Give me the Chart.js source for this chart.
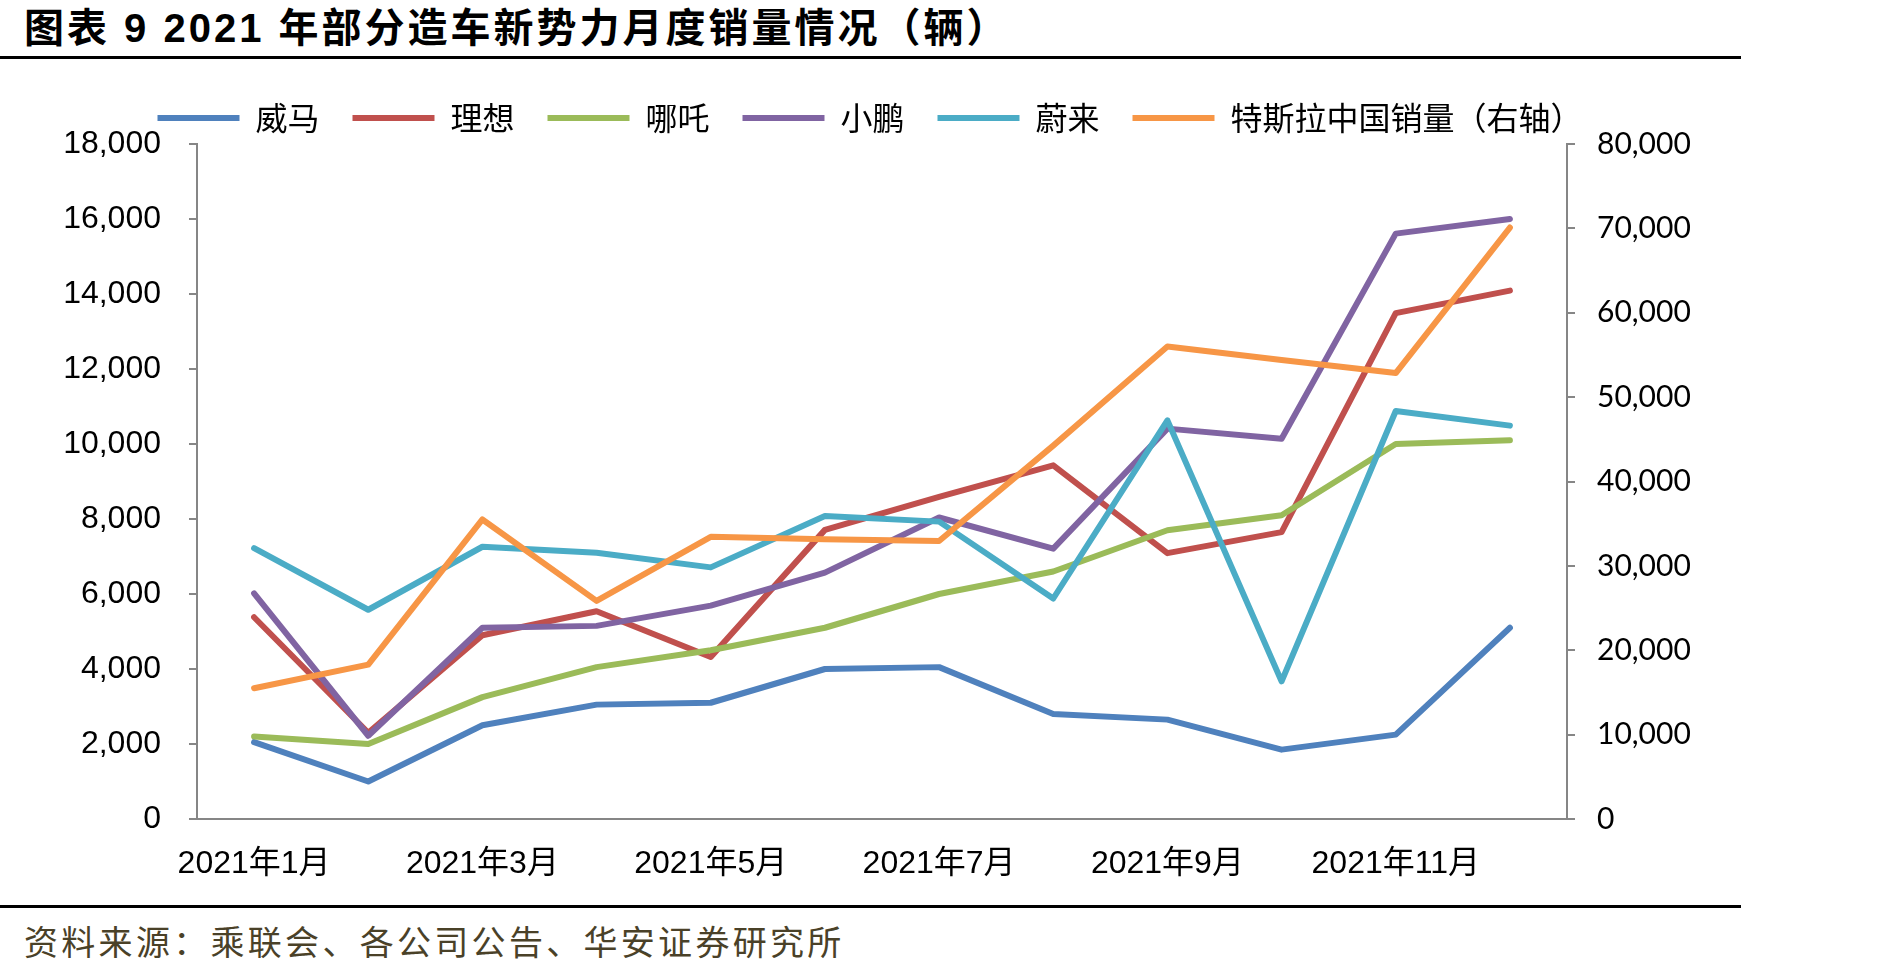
<!DOCTYPE html>
<html>
<head>
<meta charset="utf-8">
<script src="https://cdn.jsdelivr.net/npm/chart.js@4.4.0/dist/chart.umd.min.js"></script>
<style>
  body { margin: 0; background: #fff; width: 1896px; height: 974px; position: relative; overflow: hidden; }
  #title { position: absolute; left: 24px; top: -4px; line-height: 40px; font: bold 40px "Liberation Sans", "Noto Sans CJK SC", sans-serif; letter-spacing: 3px; color: #000; white-space: nowrap; }
  .rule { position: absolute; left: 0; width: 1741px; height: 3px; background: #000; }
  #source { position: absolute; left: 24px; top: 916px; font: 34px "Noto Sans CJK SC", sans-serif; letter-spacing: 3.3px; color: #4a4128; white-space: nowrap; }
  #chart-box { position: absolute; left: 0; top: 62px; width: 1740px; height: 840px; }
</style>
</head>
<body>
<div id="title">图表 9 2021 年部分造车新势力月度销量情况（辆）</div>
<div class="rule" style="top:56px"></div>
<div id="chart-box"><canvas id="my-chart"></canvas></div>
<div class="rule" style="top:905px"></div>
<div id="source">资料来源：乘联会、各公司公告、华安证券研究所</div>

<script>
'use strict';

// ********** data **********

let months = ['2021年1月', '2021年2月', '2021年3月', '2021年4月', '2021年5月', '2021年6月',
  '2021年7月', '2021年8月', '2021年9月', '2021年10月', '2021年11月', '2021年12月'];

let weimaSales = [2050, 1000, 2500, 3050, 3100, 4000, 4050, 2800, 2650, 1850, 2250, 5100];
let lixiangSales = [5380, 2300, 4900, 5540, 4320, 7710, 8590, 9430, 7090, 7650, 13490, 14090];
let nezhaSales = [2200, 2000, 3250, 4050, 4500, 5100, 6000, 6600, 7700, 8100, 10000, 10100];
let xiaopengSales = [6015, 2220, 5100, 5150, 5690, 6570, 8040, 7210, 10410, 10140, 15610, 16000];
let weilaiSales = [7225, 5580, 7260, 7100, 6710, 8080, 7930, 5880, 10630, 3670, 10880, 10490];
let teslaChinaSales = [15500, 18300, 35500, 25850, 33450, 33150, 32950, 44250, 56000, 54400, 52850, 70100];

let leftTicks = [0, 2000, 4000, 6000, 8000, 10000, 12000, 14000, 16000, 18000];
let rightTicks = [0, 10000, 20000, 30000, 40000, 50000, 60000, 70000, 80000];

// ********** helpers **********

let axisGrey = '#868686';

function makeLine(label, values, color, axis, order) {
  return {
    label: label,
    data: values,
    borderColor: color,
    backgroundColor: color,
    borderWidth: 6,
    borderCapStyle: 'round',
    borderJoinStyle: 'round',
    pointRadius: 0,
    tension: 0,
    yAxisID: axis,
    order: order
  };
}

function withComma(v) {
  return Number(v).toLocaleString('en-US');
}

// ********** chart **********

let canvasElem = document.getElementById('my-chart');

let myObj = {
  type: 'line',
  data: {
    labels: months,
    datasets: [
      makeLine('威马', weimaSales, '#4F81BD', 'y', 6),
      makeLine('理想', lixiangSales, '#C0504D', 'y', 5),
      makeLine('哪吒', nezhaSales, '#9BBB59', 'y', 4),
      makeLine('小鹏', xiaopengSales, '#8064A2', 'y', 3),
      makeLine('蔚来', weilaiSales, '#4BACC6', 'y', 2),
      makeLine('特斯拉中国销量（右轴）', teslaChinaSales, '#F79646', 'y1', 1)
    ]
  },
  options: {
    responsive: true,
    maintainAspectRatio: false,
    animation: false,
    layout: { padding: { top: 7, left: 0, right: 0, bottom: 0 } },
    plugins: {
      tooltip: { enabled: false },
      legend: {
        position: 'top',
        labels: {
          font: { family: '"Noto Sans CJK SC", sans-serif', size: 32 },
          color: '#000',
          boxWidth: 82,
          boxHeight: 6,
          padding: 33,
          generateLabels: function(chart) {
            let items = Chart.defaults.plugins.legend.labels.generateLabels(chart);
            items.forEach(function(it) {
              it.lineWidth = 0;
              it.fillStyle = it.strokeStyle;
            });
            items.sort(function(a, b) { return a.datasetIndex - b.datasetIndex; });
            return items;
          }
        }
      }
    },
    scales: {
      x: {
        offset: true,
        grid: { display: false },
        border: { display: true, color: axisGrey, width: 2 },
        ticks: {
          autoSkip: false,
          maxRotation: 0,
          padding: 18,
          color: '#000',
          font: { family: '"Liberation Sans", "Noto Sans CJK SC", sans-serif', size: 32 },
          callback: function(value, index) {
            return index % 2 === 0 ? months[index] : '';
          }
        },
        afterFit: function(scale) { scale.height = 83; }
      },
      y: {
        position: 'left',
        min: 0,
        max: 18000,
        afterBuildTicks: function(scale) {
          scale.ticks = leftTicks.map(function(v) { return { value: v }; });
        },
        grid: { drawOnChartArea: false, drawTicks: true, tickLength: 8, color: axisGrey, lineWidth: 2 },
        border: { display: true, color: axisGrey, width: 2 },
        ticks: {
          padding: 28,
          color: '#000',
          font: { family: '"Liberation Sans", sans-serif', size: 32 },
          callback: withComma
        },
        afterFit: function(scale) { scale.width = 197; }
      },
      y1: {
        position: 'right',
        min: 0,
        max: 80000,
        afterBuildTicks: function(scale) {
          scale.ticks = rightTicks.map(function(v) { return { value: v }; });
        },
        grid: { drawOnChartArea: false, drawTicks: true, tickLength: 8, color: axisGrey, lineWidth: 2 },
        border: { display: true, color: axisGrey, width: 2 },
        ticks: {
          padding: 22,
          color: '#000',
          font: { family: 'Lato, sans-serif', size: 30 },
          callback: withComma
        },
        afterFit: function(scale) { scale.width = 173; }
      }
    }
  }
};

new Chart(canvasElem, myObj);
</script>
</body>
</html>
